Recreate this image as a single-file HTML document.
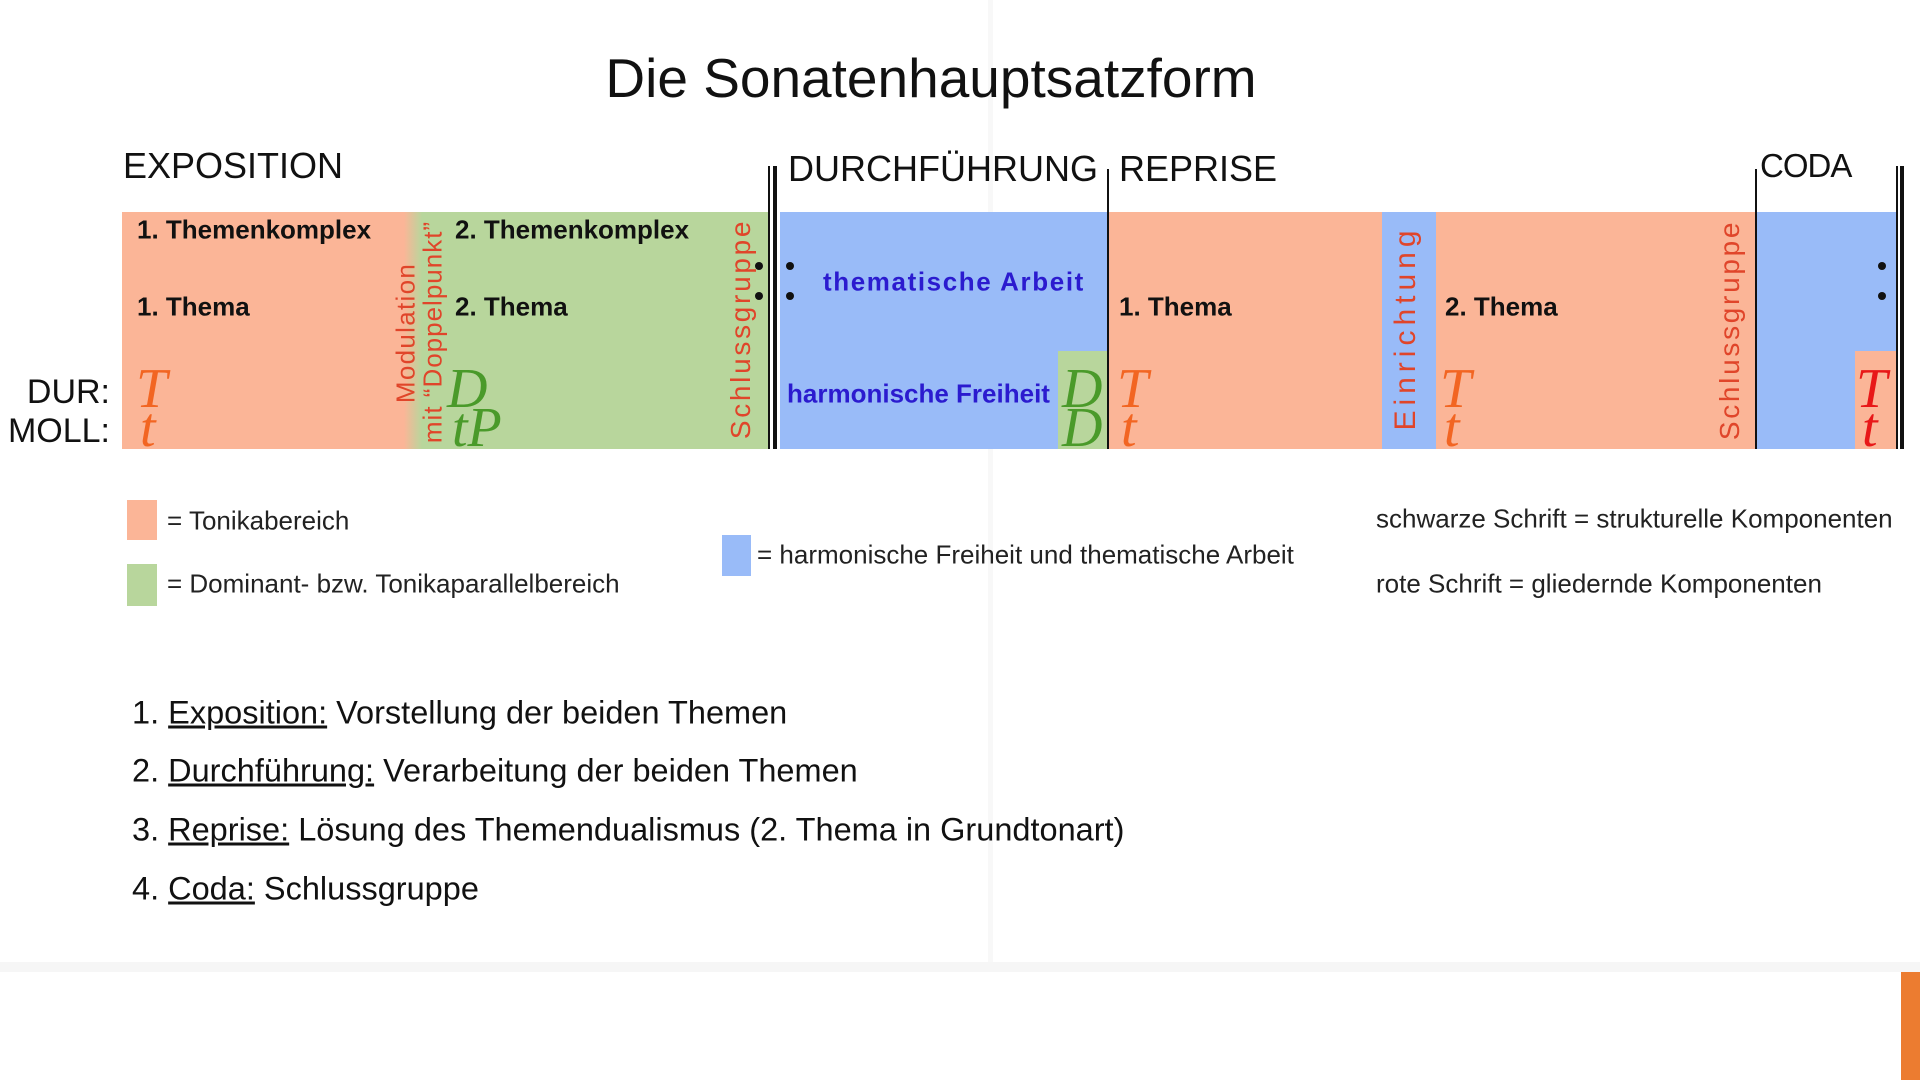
<!DOCTYPE html>
<html><head><meta charset="utf-8"><style>
body{margin:0;width:1920px;height:1080px;position:relative;overflow:hidden;background:#fff;font-family:"Liberation Sans",sans-serif}
.a{position:absolute;white-space:nowrap}
.c{transform:translateY(-50%)}
.v{transform:translate(-50%,-50%) rotate(-90deg);color:#e0452a;font-size:26px}
.h{font-size:36px;color:#111}
.l{font-size:26px;font-weight:bold;color:#111}
.s{font-family:"Liberation Serif",serif;font-style:italic;font-size:56px;line-height:1}
.dot{position:absolute;width:8px;height:8px;border-radius:50%;background:#111}
.lg{font-size:26px;color:#222}
.li{font-size:32.5px;color:#111}
.li u{text-decoration:underline}
</style></head><body>
<div class="a" style="left:988px;top:0;width:5px;height:965px;background:#f8f8f8"></div>
<div class="a" style="left:0;top:962px;width:1920px;height:10px;background:#f6f6f6"></div>
<div class="a" style="left:1901px;top:972px;width:19px;height:108px;background:#ec7c30"></div>

<div class="a" style="left:0;width:1862px;top:46px;text-align:center;font-size:55px;color:#111">Die Sonatenhauptsatzform</div>

<div class="a h c" style="left:123px;top:166px">EXPOSITION</div>
<div class="a h c" style="left:788px;top:169px">DURCHFÜHRUNG</div>
<div class="a h c" style="left:1119px;top:169px">REPRISE</div>
<div class="a h c" style="left:1760px;top:166px;font-size:33px;letter-spacing:-1px">CODA</div>

<div class="a" style="left:122px;top:212px;width:648px;height:237px;background:linear-gradient(to right,#fbb597 0,#fbb597 282px,#b8d69c 300px,#b8d69c 100%)"></div>
<div class="a" style="left:780px;top:212px;width:328px;height:237px;background:#99bbf8"></div>
<div class="a" style="left:1058px;top:351px;width:50px;height:98px;background:#b8d69c"></div>
<div class="a" style="left:1108px;top:212px;width:274px;height:237px;background:#fbb597"></div>
<div class="a" style="left:1382px;top:212px;width:54px;height:237px;background:#99bbf8"></div>
<div class="a" style="left:1436px;top:212px;width:320px;height:237px;background:#fbb597"></div>
<div class="a" style="left:1756px;top:212px;width:140px;height:237px;background:#99bbf8"></div>
<div class="a" style="left:1855px;top:351px;width:41px;height:98px;background:#fbb597"></div>

<div class="a" style="left:768px;top:166px;width:2px;height:283px;background:#111"></div>
<div class="a" style="left:773px;top:166px;width:4px;height:283px;background:#111"></div>
<div class="a" style="left:1107px;top:169px;width:2px;height:280px;background:#111"></div>
<div class="a" style="left:1755px;top:169px;width:2px;height:280px;background:#111"></div>
<div class="a" style="left:1896px;top:166px;width:2px;height:283px;background:#111"></div>
<div class="a" style="left:1900px;top:166px;width:4px;height:283px;background:#111"></div>
<div class="dot" style="left:755px;top:262px"></div><div class="dot" style="left:755px;top:292px"></div>
<div class="dot" style="left:786px;top:262px"></div><div class="dot" style="left:786px;top:292px"></div>
<div class="dot" style="left:1878px;top:262px"></div><div class="dot" style="left:1878px;top:292px"></div>

<div class="a l c" style="left:137px;top:230px">1. Themenkomplex</div>
<div class="a l c" style="left:137px;top:307px">1. Thema</div>
<div class="a l c" style="left:455px;top:230px">2. Themenkomplex</div>
<div class="a l c" style="left:455px;top:307px">2. Thema</div>
<div class="a l c" style="left:823px;top:282px;color:#2b1bcf;letter-spacing:1.6px">thematische Arbeit</div>
<div class="a l c" style="left:787px;top:394px;color:#2b1bcf">harmonische Freiheit</div>
<div class="a l c" style="left:1119px;top:307px">1. Thema</div>
<div class="a l c" style="left:1445px;top:307px">2. Thema</div>

<div class="a v" style="left:406px;top:333px;letter-spacing:1.3px">Modulation</div>
<div class="a v" style="left:433px;top:332px;letter-spacing:1px">mit “Doppelpunkt”</div>
<div class="a v" style="left:741px;top:329px;font-size:28px;letter-spacing:2.7px">Schlussgruppe</div>
<div class="a v" style="left:1406px;top:328px;font-size:30px;letter-spacing:5px">Einrichtung</div>
<div class="a v" style="left:1730px;top:330px;font-size:28px;letter-spacing:2.7px">Schlussgruppe</div>

<div class="a" style="right:1810px;top:373px;font-size:34px;color:#111">DUR:</div>
<div class="a" style="right:1810px;top:412px;font-size:34px;color:#111">MOLL:</div>

<div class="a s" style="left:136px;top:361px;color:#f26522">T</div>
<div class="a s" style="left:140px;top:400px;color:#f26522">t</div>
<div class="a s" style="left:447px;top:361px;color:#4a9a2a">D</div>
<div class="a s" style="left:452px;top:400px;color:#4a9a2a">tP</div>
<div class="a s" style="left:1062px;top:361px;color:#4a9a2a">D</div>
<div class="a s" style="left:1062px;top:400px;color:#4a9a2a">D</div>
<div class="a s" style="left:1117px;top:361px;color:#f26522">T</div>
<div class="a s" style="left:1121px;top:400px;color:#f26522">t</div>
<div class="a s" style="left:1440px;top:361px;color:#f26522">T</div>
<div class="a s" style="left:1444px;top:400px;color:#f26522">t</div>
<div class="a s" style="left:1856px;top:361px;color:#e81818">T</div>
<div class="a s" style="left:1862px;top:400px;color:#e81818">t</div>

<div class="a" style="left:127px;top:500px;width:30px;height:40px;background:#fbb597"></div>
<div class="a" style="left:127px;top:564px;width:30px;height:42px;background:#b8d69c"></div>
<div class="a" style="left:722px;top:535px;width:29px;height:41px;background:#99bbf8"></div>
<div class="a lg c" style="left:167px;top:521px">= Tonikabereich</div>
<div class="a lg c" style="left:167px;top:584px">= Dominant- bzw. Tonikaparallelbereich</div>
<div class="a lg c" style="left:757px;top:555px">= harmonische Freiheit und thematische Arbeit</div>
<div class="a lg c" style="left:1376px;top:519px">schwarze Schrift = strukturelle Komponenten</div>
<div class="a lg c" style="left:1376px;top:584px">rote Schrift = gliedernde Komponenten</div>

<div class="a li c" style="left:132px;top:713px">1. <u>Exposition:</u> Vorstellung der beiden Themen</div>
<div class="a li c" style="left:132px;top:771px">2. <u>Durchführung:</u> Verarbeitung der beiden Themen</div>
<div class="a li c" style="left:132px;top:830px">3. <u>Reprise:</u> Lösung des Themendualismus (2. Thema in Grundtonart)</div>
<div class="a li c" style="left:132px;top:889px">4. <u>Coda:</u> Schlussgruppe</div>
</body></html>
